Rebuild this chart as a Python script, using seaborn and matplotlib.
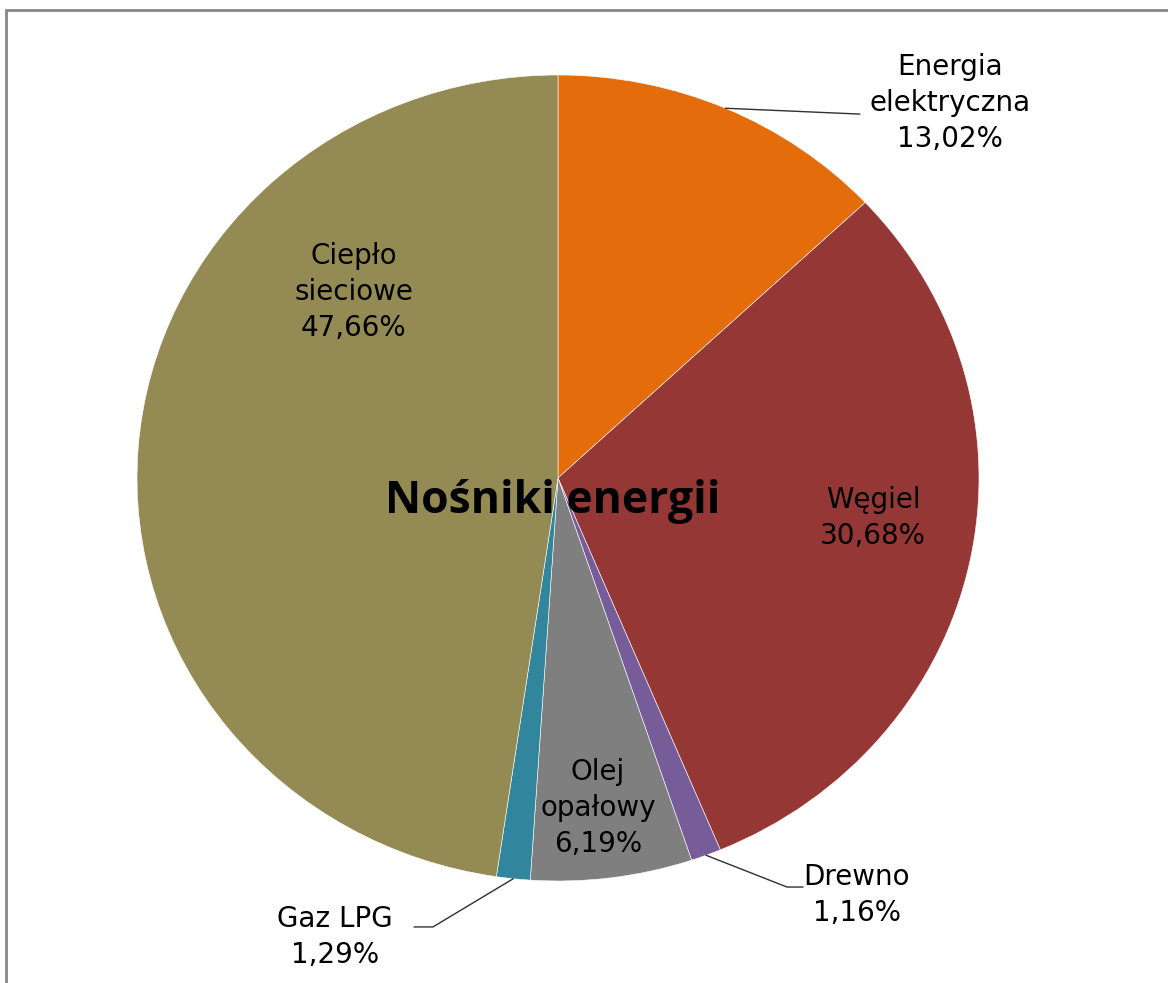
"""Wykres kołowy: nośniki energii (udział procentowy)."""
import numpy as np
import matplotlib
matplotlib.use('Agg')
import matplotlib.pyplot as plt
from matplotlib.patches import Rectangle
import seaborn as sns

# dane
nosniki = ['Energia\nelektryczna', 'Węgiel', 'Drewno', 'Olej\nopałowy', 'Gaz LPG', 'Ciepło\nsieciowe']
udzial = [13.02, 30.68, 1.16, 6.19, 1.29, 47.66]
tytul = 'Nośniki energii'

kolory = ['#E46C0A', '#953735', '#775C9A', '#7F7F7F', '#31859C', '#948A54']

# pozycje etykiet (współrzędne osi, promień koła = 1)
poz_etykiet = [(0.931, 0.930), (0.748, -0.099), (0.710, -1.035),
               (0.095, -0.819), (-0.530, -1.139), (-0.485, 0.462)]
# końce linii odniesienia (None = etykieta w środku wycinka)
linie = [[(0.717, 0.903)], None, [(0.544, -1.015), (0.582, -1.015)],
         None, [(-0.297, -1.114), (-0.342, -1.114)], None]


def main():
    sns.set_style('white')
    plt.rcParams['font.family'] = ['DejaVu Sans']

    fig = plt.figure(figsize=(11.68, 9.83), dpi=100)
    ax = fig.add_axes([137 / 1168, 102 / 983, 842 / 1168, 806 / 983])

    paleta = sns.color_palette(kolory)
    wedges, _ = ax.pie(udzial, colors=paleta, startangle=90, counterclock=False,
                       radius=1.0, wedgeprops=dict(edgecolor='white', linewidth=0.4))
    ax.set_aspect('auto')
    ax.set_xlim(-1, 1)
    ax.set_ylim(-1, 1)
    ax.axis('off')

    for w, nazwa, val, (tx, ty), lin in zip(wedges, nosniki, udzial, poz_etykiet, linie):
        napis = f'{nazwa}\n{val:.2f}%'.replace('.', ',')
        ax.text(tx, ty, napis, ha='center', va='center', fontsize=20,
                linespacing=1.37, color='black')
        if lin is not None:
            kat = np.deg2rad((w.theta1 + w.theta2) / 2)
            pts = [(np.cos(kat), np.sin(kat))] + lin
            xs, ys = zip(*pts)
            ax.plot(xs, ys, color='#303030', lw=1.0, clip_on=False)

    ax.text(-0.013, -0.087, tytul, ha='center', va='baseline', fontsize=32,
            fontweight='bold', family=['Open Sans', 'DejaVu Sans'], color='black')

    # ramka wykresu
    fig.patches.append(Rectangle((6 / 1168, -0.2), 1.5, 1.2 - 10 / 983,
                                 transform=fig.transFigure, fill=False,
                                 edgecolor='#868686', linewidth=2))

    fig.savefig('out.png', dpi=100)
    plt.close(fig)


if __name__ == '__main__':
    main()
